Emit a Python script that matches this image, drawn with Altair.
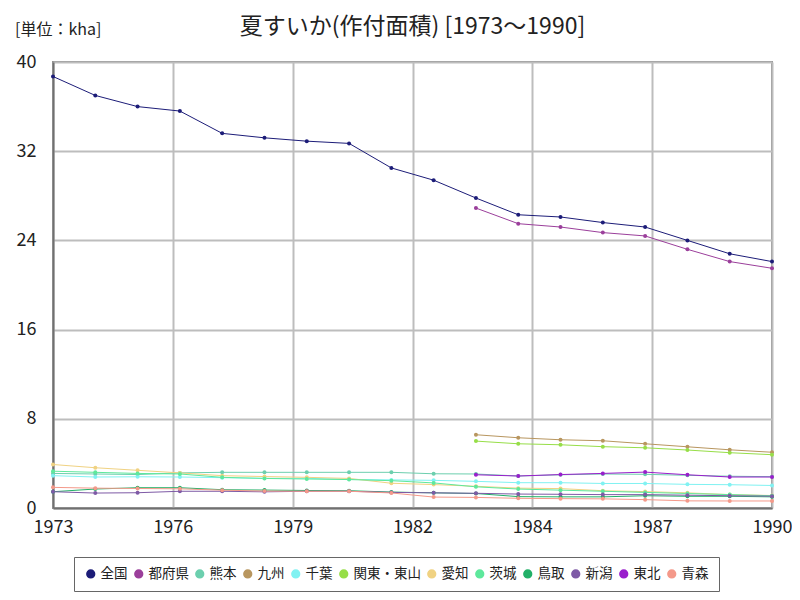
import altair as alt
import pandas as pd

years = list(range(1973, 1991))
N = None

series_names = ["全国", "都府県", "熊本", "九州", "千葉", "関東・東山", "愛知", "茨城", "鳥取", "新潟", "東北", "青森"]
series_colors = ["#1c1c78", "#9b3f9b", "#6ccfae", "#b8965f", "#80f2f2", "#97de48",
                 "#f0d282", "#5ee89c", "#22b068", "#7e5aa6", "#9a1ecc", "#f4998a"]

zenkoku   = [38.7, 37.0, 36.0, 35.6, 33.6, 33.2, 32.9, 32.7, 30.5, 29.4, 27.8, 26.3, 26.1, 25.6, 25.2, 24.0, 22.8, 22.1]
tofuken   = [N, N, N, N, N, N, N, N, N, N, 26.9, 25.5, 25.2, 24.7, 24.4, 23.2, 22.1, 21.5]
kumamoto  = [3.1, 3.05, 3.0, 3.15, 3.2, 3.2, 3.2, 3.2, 3.2, 3.07, 3.05, 2.87, 2.98, 3.05, 3.02, 2.93, 2.85, 2.81]
kyushu    = [N, N, N, N, N, N, N, N, N, N, 6.57, 6.3, 6.12, 6.03, 5.76, 5.49, 5.22, 5.0]
chiba     = [2.9, 2.78, 2.8, 2.78, 2.72, 2.66, 2.66, 2.57, 2.52, 2.48, 2.39, 2.27, 2.27, 2.2, 2.2, 2.12, 2.09, 2.02]
kanto     = [N, N, N, N, N, N, N, N, N, N, 6.0, 5.76, 5.67, 5.5, 5.4, 5.2, 4.96, 4.78]
aichi     = [3.9, 3.61, 3.38, 3.15, 2.9, 2.82, 2.75, 2.65, 2.22, 2.1, 1.95, 1.78, 1.74, 1.55, 1.47, 1.36, 1.2, 1.12]
ibaraki   = [3.3, 3.2, 3.1, 3.05, 2.75, 2.65, 2.6, 2.55, 2.45, 2.25, 1.9, 1.7, 1.6, 1.5, 1.4, 1.3, 1.2, 1.1]
tottori   = [1.46, 1.7, 1.82, 1.82, 1.64, 1.61, 1.57, 1.55, 1.43, 1.36, 1.3, 1.02, 1.0, 1.0, 1.1, 1.05, 1.05, 1.0]
niigata   = [1.46, 1.34, 1.37, 1.5, 1.5, 1.45, 1.5, 1.5, 1.4, 1.36, 1.32, 1.25, 1.23, 1.2, 1.2, 1.15, 1.1, 1.06]
tohoku    = [N, N, N, N, N, N, N, N, N, N, 2.98, 2.87, 3.0, 3.1, 3.22, 2.98, 2.78, 2.78]
aomori    = [1.85, 1.78, 1.75, 1.72, 1.6, 1.52, 1.5, 1.5, 1.35, 0.98, 0.95, 0.87, 0.84, 0.82, 0.75, 0.64, 0.63, 0.63]

all_series = [zenkoku, tofuken, kumamoto, kyushu, chiba, kanto, aichi, ibaraki, tottori, niigata, tohoku, aomori]

title_text = "夏すいか(作付面積) [1973～1990]"
unit_label = "[単位：kha]"
y_ticks = [0, 8, 16, 24, 32, 40]
x_ticks = [1973 + 17 * i / 6 for i in range(7)]

rows = []
for name, vals in zip(series_names, all_series):
    for yr, v in zip(years, vals):
        if v is not None:
            rows.append({"year": yr, "value": v, "series": name})
df = pd.DataFrame(rows)

FONT = "Noto Sans CJK JP"
W, H = 719, 446

lines = alt.Chart(df).mark_line(
    strokeWidth=1,
    point=alt.OverlayMarkDef(size=16, filled=True, opacity=1),
).encode(
    x=alt.X("year:Q", scale=alt.Scale(domain=[1973, 1990], nice=False, zero=False),
            axis=alt.Axis(values=x_ticks, labelExpr="toString(round(datum.value))", title=None,
                          grid=True, ticks=False, labelPadding=10, labelFontSize=18,
                          labelFont=FONT, labelColor="#222", gridColor="#bdbdbd", gridWidth=2,
                          domainColor="#707070", domainWidth=2, labelFlush=False)),
    y=alt.Y("value:Q", scale=alt.Scale(domain=[0, 40], nice=False),
            axis=alt.Axis(values=y_ticks, title=None, grid=True, ticks=False, labelPadding=17,
                          labelFontSize=18, labelFont=FONT, labelColor="#222",
                          gridColor="#bdbdbd", gridWidth=2, domainColor="#707070", domainWidth=2)),
    color=alt.Color("series:N", sort=series_names,
                    scale=alt.Scale(domain=series_names, range=series_colors),
                    legend=alt.Legend(title=None, orient="none", legendX=21, legendY=495,
                                      direction="horizontal", columns=12, symbolType="circle",
                                      symbolSize=60, symbolOpacity=1, labelFontSize=13.5, labelFont=FONT,
                                      labelColor="#222", columnPadding=3, labelOffset=3,
                                      padding=10, strokeColor="#666666", fillColor="white")),
    order=alt.Order("year:Q"),
)

unit = alt.Chart(pd.DataFrame({"t": [unit_label]})).mark_text(
    align="left", baseline="middle", fontSize=16, font=FONT, color="#222"
).encode(text="t:N", x=alt.value(-38), y=alt.value(-32))

title = alt.Chart(pd.DataFrame({"t": [title_text]})).mark_text(
    align="center", baseline="middle", fontSize=23, font=FONT, color="#222"
).encode(text="t:N", x=alt.value(W / 2), y=alt.value(-35))

chart = alt.layer(lines, unit, title).properties(
    width=W, height=H,
    padding={"left": 45, "top": 54, "right": 20, "bottom": 90},
    autosize=alt.AutoSizeParams(type="none"),
).configure_view(stroke="#909090", strokeWidth=2)

chart.save("out.html", embed_options={"renderer": "svg", "actions": False})
